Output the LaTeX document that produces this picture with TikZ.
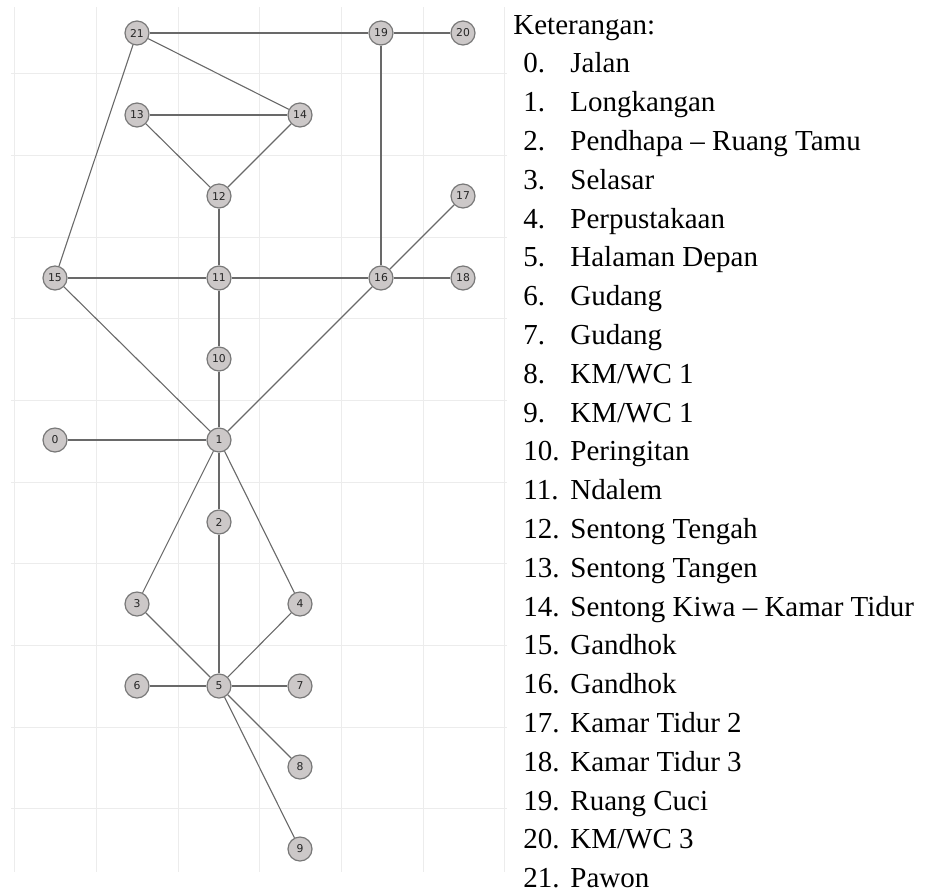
\documentclass[tikz,border=0pt]{standalone}
\usepackage{fontspec}
\setmainfont{Liberation Serif}
\newfontfamily\nodefont{DejaVu Sans}
\usetikzlibrary{positioning}
\definecolor{RoomFill}{RGB}{204,200,200}
\definecolor{RoomLine}{RGB}{120,120,120}
\definecolor{LinkGray}{RGB}{105,105,105}
\definecolor{GridGray}{RGB}{236,236,236}
\tikzset{
	room/.style={circle,draw=RoomLine,fill=RoomFill,line width=0.6pt,minimum size=12pt,
		inner sep=0pt,font=\nodefont\fontsize{5.4}{6}\selectfont,text=black!85},
	link/.style={draw=LinkGray,line width=0.55pt},
	legend/.style={inner sep=0pt,font=\fontsize{14.5}{16}\selectfont},
}

\begin{document}
\begin{tikzpicture}[x=0.5pt,y=-0.5pt]
	\useasboundingbox (0,0) rectangle (926,890);
	% grid behind the graph
	\begin{scope}[draw=GridGray,line width=0.5pt]
		\foreach \gx in {14,96,178,259,341,423,504} \draw (\gx,7) -- (\gx,872);
		\foreach \gy in {73,155,237,318,400,482,563,645,727,808} \draw (11,\gy) -- (507,\gy);
	\end{scope}
	% rooms
	\node[room] (r21) at (137,33) {21};
	\node[room] (r19) at (381,33) {19};
	\node[room] (r20) at (463,33) {20};
	\node[room] (r13) at (137,115) {13};
	\node[room] (r14) at (300,115) {14};
	\node[room] (r12) at (219,196) {12};
	\node[room] (r17) at (463,196) {17};
	\node[room] (r15) at (55,278) {15};
	\node[room] (r11) at (219,278) {11};
	\node[room] (r16) at (381,278) {16};
	\node[room] (r18) at (463,278) {18};
	\node[room] (r10) at (219,359) {10};
	\node[room] (r0) at (55,440) {0};
	\node[room] (r1) at (219,440) {1};
	\node[room] (r2) at (219,522) {2};
	\node[room] (r3) at (137,604) {3};
	\node[room] (r4) at (300,604) {4};
	\node[room] (r6) at (137,686) {6};
	\node[room] (r5) at (219,686) {5};
	\node[room] (r7) at (300,686) {7};
	\node[room] (r8) at (300,767) {8};
	\node[room] (r9) at (300,849) {9};
	% connections
	\foreach \a/\b in {21/19,19/20,21/14,21/15,13/14,13/12,14/12,12/11,19/16,16/17,
		15/11,11/16,16/18,15/1,11/10,10/1,16/1,0/1,1/2,1/3,1/4,2/5,3/5,4/5,6/5,5/7,5/8,5/9}
		\draw[link] (r\a) -- (r\b);
	% legend
	\node[legend,anchor=base west] (ket) at (513,34) {Keterangan:};
	\foreach \name [count=\i from 0] in {Jalan,Longkangan,Pendhapa – Ruang Tamu,Selasar,
		Perpustakaan,Halaman Depan,Gudang,Gudang,KM/WC 1,KM/WC 1,Peringitan,Ndalem,
		Sentong Tengah,Sentong Tangen,Sentong Kiwa – Kamar Tidur,Gandhok,Gandhok,
		Kamar Tidur 2,Kamar Tidur 3,Ruang Cuci,KM/WC 3,Pawon} {
		\node[legend,anchor=base west] (num\i) at (523,{72.8+38.8*\i}) {\i.};
		\node[legend,anchor=base west] (item\i) at (570,{72.8+38.8*\i}) {\name};
	}
\end{tikzpicture}
\end{document}
